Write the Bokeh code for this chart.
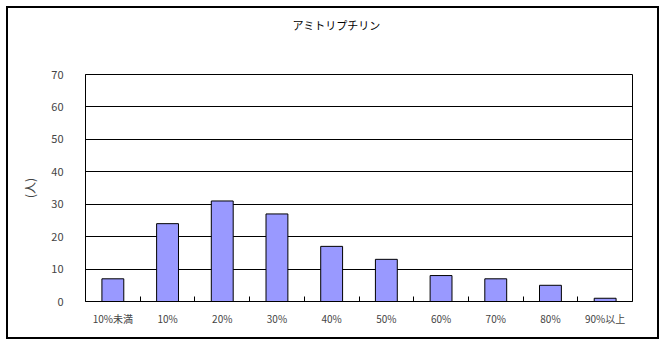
from bokeh.plotting import figure
from bokeh.models import FixedTicker, Range1d, ColumnDataSource, Title
from bokeh.embed import file_html
from bokeh.resources import INLINE

title_text = "アミトリプチリン"
y_label = "(人)"
categories = ["10%未満", "10%", "20%", "30%", "40%", "50%", "60%", "70%", "80%", "90%以上"]
counts = [7, 24, 31, 27, 17, 13, 8, 7, 5, 1]
y_ticks = [0, 10, 20, 30, 40, 50, 60, 70]

FONT = "Noto Sans CJK JP"

positions = list(range(1, len(categories) + 1))
boundaries = [i + 0.5 for i in positions[:-1]]
y_top = y_ticks[-1]

src = ColumnDataSource(dict(x=positions, top=counts, cat=categories))

p = figure(width=653, height=333, output_backend="svg", toolbar_location=None,
           x_range=Range1d(0.5, len(categories) + 0.5), y_range=Range1d(0, y_top),
           min_border_left=77, min_border_right=29, min_border_top=66, min_border_bottom=40)
p.styles = {"margin-left": "6px", "margin-top": "6px",
            "border": "2px solid black"}
p.title = None

p.vbar(x="x", top="top", width=0.4, source=src, fill_color="#9999FF",
       line_color="black", line_width=1)

main_title = Title(text=title_text, align="left", offset=207, vertical_align="top",
                   standoff=12, text_font=FONT, text_font_size="11px",
                   text_font_style="normal", text_color="black")
spacer = Title(text=" ", align="left", vertical_align="top", standoff=16,
               text_font=FONT, text_font_size="11px", text_font_style="normal")
p.add_layout(spacer, "above")
p.add_layout(main_title, "above")

p.outline_line_color = "black"
p.outline_line_width = 1
p.background_fill_color = "white"
p.border_fill_color = "white"

p.xgrid.visible = False
p.ygrid.grid_line_color = "black"
p.ygrid.grid_line_width = 1
p.ygrid.ticker = FixedTicker(ticks=y_ticks)

p.yaxis.ticker = FixedTicker(ticks=y_ticks)
p.yaxis.axis_label = y_label
p.yaxis.axis_label_text_font = FONT
p.yaxis.axis_label_text_font_size = "12px"
p.yaxis.axis_label_text_font_style = "normal"
p.yaxis.axis_label_standoff = 10
p.yaxis.major_tick_out = 0
p.yaxis.major_tick_in = 0
p.yaxis.minor_tick_out = 0
p.yaxis.minor_tick_in = 0
p.yaxis.major_label_standoff = 22
p.yaxis.major_label_text_font = FONT
p.yaxis.major_label_text_font_size = "11px"
p.yaxis.axis_line_color = "black"

p.xaxis.ticker = FixedTicker(ticks=positions, minor_ticks=boundaries)
p.xaxis.major_label_overrides = {pos: c for pos, c in zip(positions, categories)}
p.xaxis.major_tick_in = 0
p.xaxis.major_tick_out = 0
p.xaxis.minor_tick_in = 5
p.xaxis.minor_tick_out = 0
p.xaxis.minor_tick_line_color = "black"
p.xaxis.major_label_standoff = 9
p.xaxis.major_label_text_font = FONT
p.xaxis.major_label_text_font_size = "10px"
p.xaxis.axis_line_color = "black"

open("out.html", "w").write(file_html(p, INLINE))
